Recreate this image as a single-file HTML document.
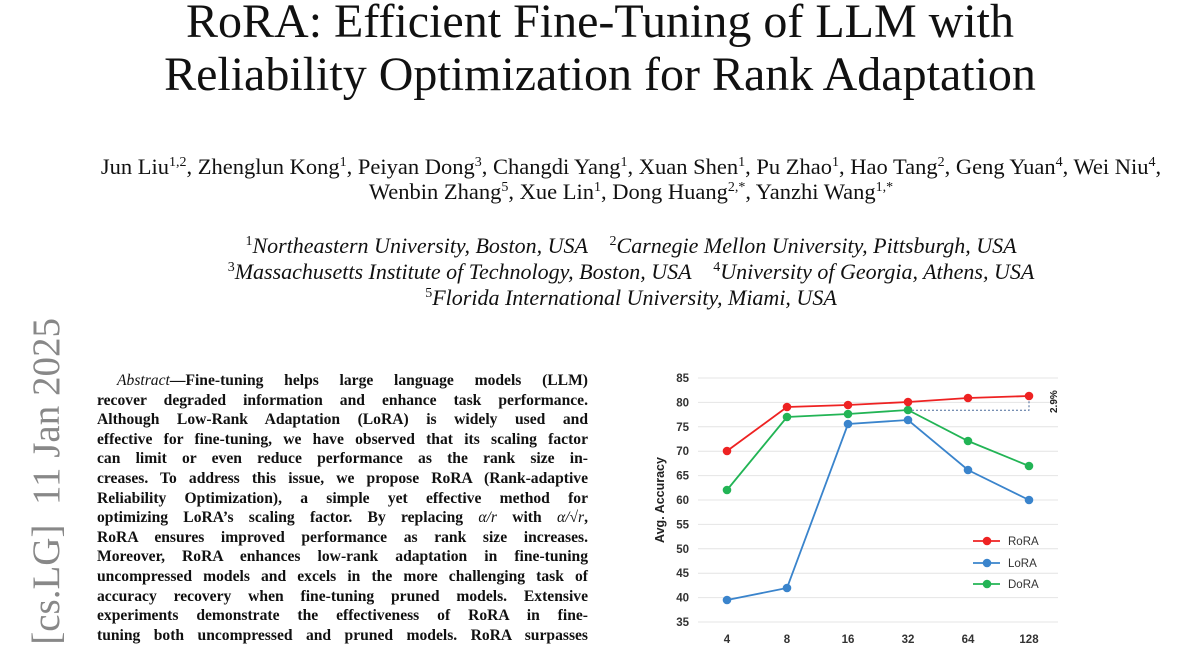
<!DOCTYPE html>
<html style="overflow:hidden;width:1200px;height:648px"><head><meta charset="utf-8"><style>
html,body{margin:0;width:1200px;height:648px;overflow:hidden}
body{background:#fff;position:relative;font-family:"Liberation Serif",serif;color:#111}
.clip{position:absolute;left:0;top:0;width:1200px;height:648px;overflow:hidden}
.c{position:absolute;left:31px;width:1200px;text-align:center;white-space:nowrap}
.t{font-size:48px;line-height:52px;left:0}
.a{font-size:22.5px;line-height:25px}
.f{font-size:22px;line-height:25px;font-style:italic}
sup{font-size:14px;font-style:normal;vertical-align:8px;line-height:0}
.ab{position:absolute;left:97px;width:491px;font-weight:bold;font-size:15.6px;line-height:19.6px;white-space:nowrap;text-align:justify;text-align-last:justify}
.ab div{height:19.6px}
.ax{position:absolute;left:24px;top:1318px;width:1000px;height:46px;transform-origin:0 0;transform:rotate(-90deg);text-align:right;font-size:39px;line-height:46px;color:#888;white-space:nowrap}
</style></head><body><div class="clip">
<div class="c t" style="top:-4px">RoRA: Efficient Fine-Tuning of LLM with</div>
<div class="c t" style="top:49px">Reliability Optimization for Rank Adaptation</div>
<div class="c a" style="top:154px">Jun Liu<sup>1,2</sup>, Zhenglun Kong<sup>1</sup>, Peiyan Dong<sup>3</sup>, Changdi Yang<sup>1</sup>, Xuan Shen<sup>1</sup>, Pu Zhao<sup>1</sup>, Hao Tang<sup>2</sup>, Geng Yuan<sup>4</sup>, Wei Niu<sup>4</sup>,</div>
<div class="c a" style="top:179px">Wenbin Zhang<sup>5</sup>, Xue Lin<sup>1</sup>, Dong Huang<sup>2,*</sup>, Yanzhi Wang<sup>1,*</sup></div>
<div class="c f" style="top:233px"><sup>1</sup>Northeastern University, Boston, USA &nbsp;&nbsp; <sup>2</sup>Carnegie Mellon University, Pittsburgh, USA</div>
<div class="c f" style="top:259px"><sup>3</sup>Massachusetts Institute of Technology, Boston, USA &nbsp;&nbsp; <sup>4</sup>University of Georgia, Athens, USA</div>
<div class="c f" style="top:285px"><sup>5</sup>Florida International University, Miami, USA</div>
<div class="ax">arXiv:2501.04315v1 &nbsp;[cs.LG] &nbsp;11 Jan 2025</div>
<div class="ab" style="top:371px">
<div style="padding-left:20px"><i style="font-weight:normal">Abstract</i>—Fine-tuning helps large language models (LLM)</div>
<div>recover degraded information and enhance task performance.</div>
<div>Although Low-Rank Adaptation (LoRA) is widely used and</div>
<div>effective for fine-tuning, we have observed that its scaling factor</div>
<div>can limit or even reduce performance as the rank size in-</div>
<div>creases. To address this issue, we propose RoRA (Rank-adaptive</div>
<div>Reliability Optimization), a simple yet effective method for</div>
<div>optimizing LoRA’s scaling factor. By replacing <i style="font-weight:normal">α/r</i> with <i style="font-weight:normal">α/√r</i>,</div>
<div>RoRA ensures improved performance as rank size increases.</div>
<div>Moreover, RoRA enhances low-rank adaptation in fine-tuning</div>
<div>uncompressed models and excels in the more challenging task of</div>
<div>accuracy recovery when fine-tuning pruned models. Extensive</div>
<div>experiments demonstrate the effectiveness of RoRA in fine-</div>
<div>tuning both uncompressed and pruned models. RoRA surpasses</div>
</div>
<svg style="position:absolute;left:0;top:0" width="1200" height="648" font-family="Liberation Sans, sans-serif">
<g stroke="#e4e4e4" stroke-width="1">
<line x1="698" x2="1058" y1="378" y2="378"/><line x1="698" x2="1058" y1="402.4" y2="402.4"/><line x1="698" x2="1058" y1="426.8" y2="426.8"/><line x1="698" x2="1058" y1="451.2" y2="451.2"/><line x1="698" x2="1058" y1="475.6" y2="475.6"/><line x1="698" x2="1058" y1="500" y2="500"/><line x1="698" x2="1058" y1="524.4" y2="524.4"/><line x1="698" x2="1058" y1="548.8" y2="548.8"/><line x1="698" x2="1058" y1="573.2" y2="573.2"/><line x1="698" x2="1058" y1="597.6" y2="597.6"/><line x1="698" x2="1058" y1="622" y2="622"/>
</g>
<g font-size="11.5" font-weight="bold" fill="#333" text-anchor="end">
<text x="689" y="382">85</text><text x="689" y="406.4">80</text><text x="689" y="430.8">75</text><text x="689" y="455.2">70</text><text x="689" y="479.6">65</text><text x="689" y="504">60</text><text x="689" y="528.4">55</text><text x="689" y="552.8">50</text><text x="689" y="577.2">45</text><text x="689" y="601.6">40</text><text x="689" y="626">35</text>
</g>
<g font-size="11.5" font-weight="bold" fill="#333" text-anchor="middle">
<text x="727" y="643">4</text><text x="787" y="643">8</text><text x="848" y="643">16</text><text x="908" y="643">32</text><text x="968" y="643">64</text><text x="1029" y="643">128</text>
</g>
<text transform="translate(664,500) rotate(-90)" font-size="12.5" font-weight="bold" fill="#222" text-anchor="middle">Avg. Accuracy</text>
<polyline points="908,410.3 1029,410.3 1029,397" fill="none" stroke="#4a6a9a" stroke-width="1" stroke-dasharray="2,2"/>
<text transform="translate(1057,413) rotate(-90)" font-size="10" font-weight="bold" fill="#222">2.9%</text>
<g stroke-width="1.8" fill="none">
<polyline stroke="#3a84cc" points="727,600 787,588 848,424 908,420 968,470 1029,500"/>
<polyline stroke="#22b455" points="727,490 787,417 848,414 908,410 968,441 1029,466"/>
<polyline stroke="#ee2222" points="727,451 787,407 848,405 908,402 968,398 1029,396"/>
</g>
<g fill="#3a84cc"><circle cx="727" cy="600" r="4.3"/><circle cx="787" cy="588" r="4.3"/><circle cx="848" cy="424" r="4.3"/><circle cx="908" cy="420" r="4.3"/><circle cx="968" cy="470" r="4.3"/><circle cx="1029" cy="500" r="4.3"/></g>
<g fill="#22b455"><circle cx="727" cy="490" r="4.3"/><circle cx="787" cy="417" r="4.3"/><circle cx="848" cy="414" r="4.3"/><circle cx="908" cy="410" r="4.3"/><circle cx="968" cy="441" r="4.3"/><circle cx="1029" cy="466" r="4.3"/></g>
<g fill="#ee2222"><circle cx="727" cy="451" r="4.3"/><circle cx="787" cy="407" r="4.3"/><circle cx="848" cy="405" r="4.3"/><circle cx="908" cy="402" r="4.3"/><circle cx="968" cy="398" r="4.3"/><circle cx="1029" cy="396" r="4.3"/></g>
<line x1="973" x2="1000" y1="541" y2="541" stroke="#ee2222" stroke-width="1.8"/><circle cx="987" cy="541" r="4.3" fill="#ee2222"/>
<line x1="973" x2="1000" y1="563" y2="563" stroke="#3a84cc" stroke-width="1.8"/><circle cx="987" cy="563" r="4.3" fill="#3a84cc"/>
<line x1="973" x2="1000" y1="584" y2="584" stroke="#22b455" stroke-width="1.8"/><circle cx="987" cy="584" r="4.3" fill="#22b455"/>
<g font-size="11.5" fill="#333"><text x="1008" y="545">RoRA</text><text x="1008" y="567">LoRA</text><text x="1008" y="588">DoRA</text></g>
</svg>
</div></body></html>
